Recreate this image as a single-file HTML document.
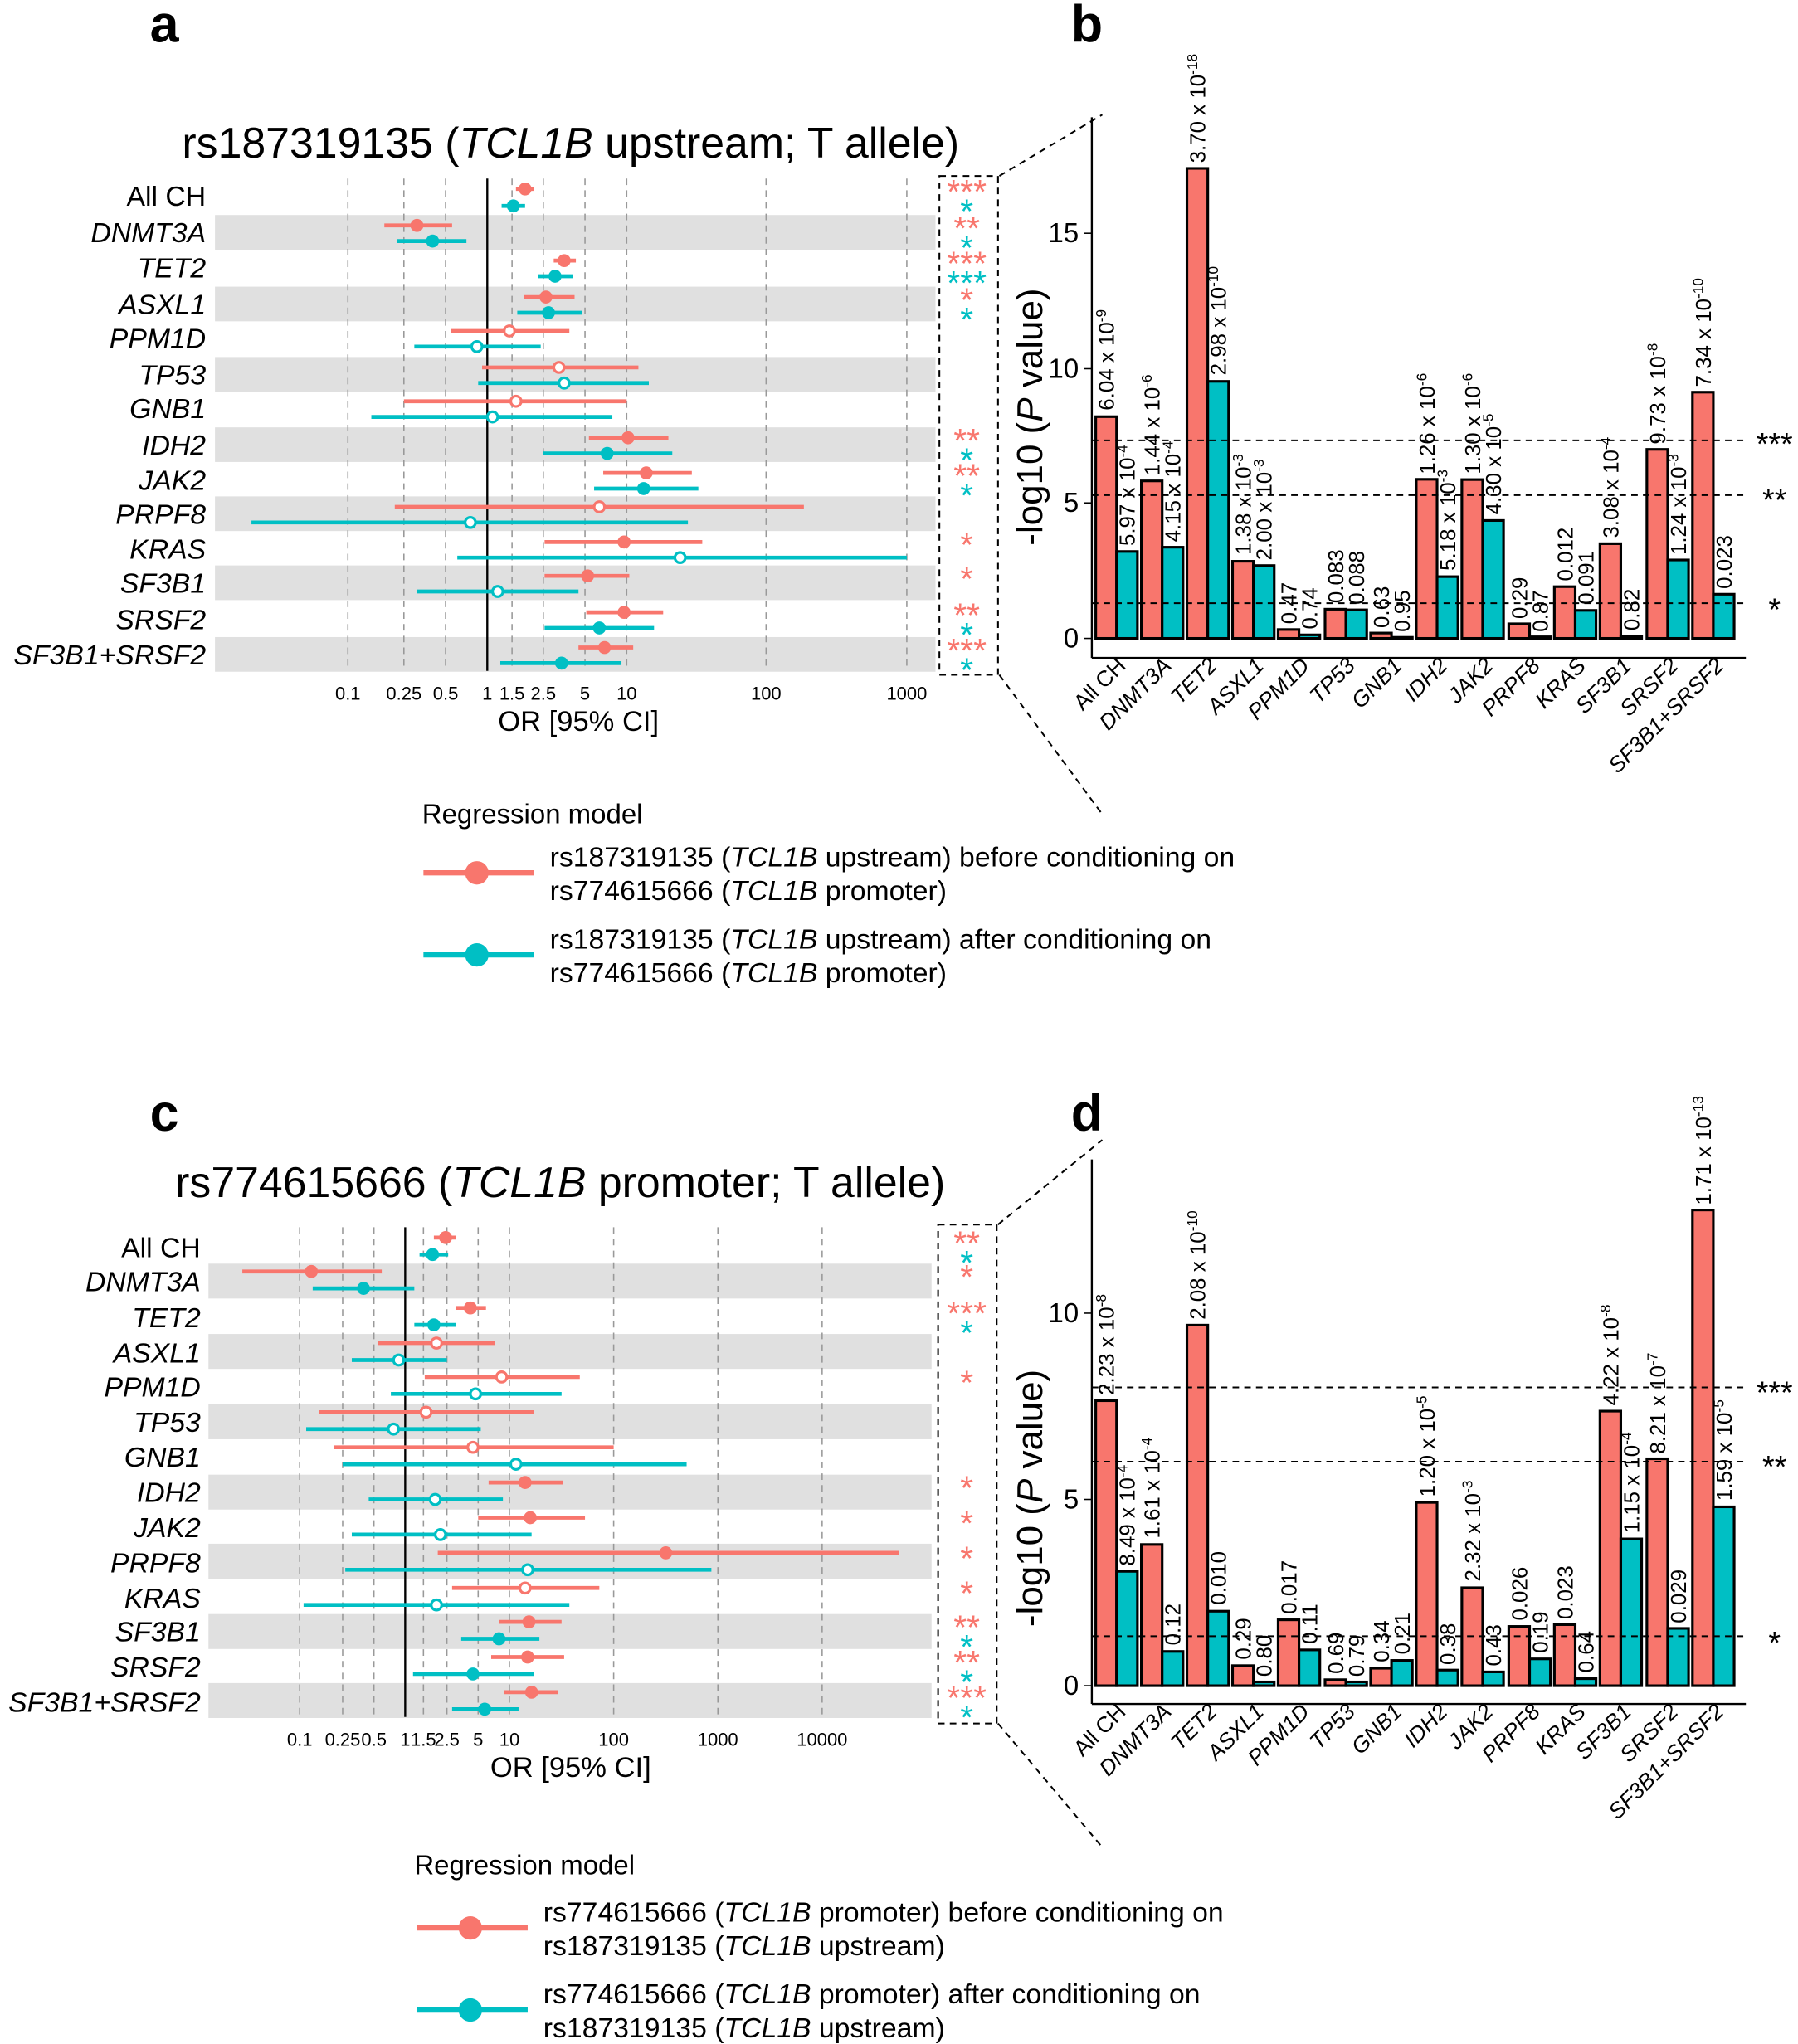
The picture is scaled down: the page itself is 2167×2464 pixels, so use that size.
<!DOCTYPE html>
<html><head><meta charset="utf-8"><style>
html,body{margin:0;padding:0;background:#fff}
svg{display:block}
text{font-family:"Liberation Sans",sans-serif;fill:#000}
.i{font-style:italic}
.r{stroke:#F8766D;stroke-width:3}
.c{stroke:#00BFC4;stroke-width:3}
.rf{fill:#F8766D}
.cf{fill:#00BFC4}
.ro{fill:#fff;stroke:#F8766D;stroke-width:2}
.co{fill:#fff;stroke:#00BFC4;stroke-width:2}
.g{stroke:#999;stroke-width:1;stroke-dasharray:5,4}
.band{fill:#e0e0e0}
.rl{font-size:21.5px;text-anchor:end}
.tk{font-size:14px;text-anchor:middle}
.sr{fill:#F8766D;font-size:26px;text-anchor:middle}
.sc{fill:#00BFC4;font-size:26px;text-anchor:middle}
.br{fill:#F8766D;stroke:#000;stroke-width:2}
.bc{fill:#00BFC4;stroke:#000;stroke-width:2}
.bl{font-size:16.5px}
.bl tspan{font-size:11px}
.xl{font-size:17px;text-anchor:end}
.yt{font-size:21px;text-anchor:end}
.lg{font-size:21.5px}
.dl{stroke:#000;stroke-width:1.3;stroke-dasharray:5,4}
</style></head><body>
<svg width="2167" height="2464" viewBox="0 0 1380 1569" xmlns="http://www.w3.org/2000/svg">
<!-- ===== Panel a ===== -->
<text x="115" y="32" font-size="40" font-weight="bold">a</text>
<text x="438" y="121" font-size="33" text-anchor="middle">rs187319135 (<tspan class="i">TCL1B</tspan> upstream; T allele)</text>
<g>
<rect class="band" x="165" y="165" width="553" height="26.6"/>
<rect class="band" x="165" y="220" width="553" height="26.6"/>
<rect class="band" x="165" y="274" width="553" height="26.6"/>
<rect class="band" x="165" y="328" width="553" height="26.6"/>
<rect class="band" x="165" y="381" width="553" height="26.6"/>
<rect class="band" x="165" y="434" width="553" height="26.6"/>
<rect class="band" x="165" y="489" width="553" height="26.6"/>
</g>
<g>
<line class="g" x1="267" y1="137" x2="267" y2="515"/>
<line class="g" x1="310" y1="137" x2="310" y2="515"/>
<line class="g" x1="342" y1="137" x2="342" y2="515"/>
<line class="g" x1="393" y1="137" x2="393" y2="515"/>
<line class="g" x1="417" y1="137" x2="417" y2="515"/>
<line class="g" x1="449" y1="137" x2="449" y2="515"/>
<line class="g" x1="481" y1="137" x2="481" y2="515"/>
<line class="g" x1="588" y1="137" x2="588" y2="515"/>
<line class="g" x1="696" y1="137" x2="696" y2="515"/>
<line x1="374" y1="137" x2="374" y2="515" stroke="#000" stroke-width="1.5"/>
</g>
<g>
<text class="rl" x="158" y="158">All CH</text>
<text class="rl i" x="158" y="186">DNMT3A</text>
<text class="rl i" x="158" y="213">TET2</text>
<text class="rl i" x="158" y="241">ASXL1</text>
<text class="rl i" x="158" y="267">PPM1D</text>
<text class="rl i" x="158" y="295">TP53</text>
<text class="rl i" x="158" y="321">GNB1</text>
<text class="rl i" x="158" y="349">IDH2</text>
<text class="rl i" x="158" y="376">JAK2</text>
<text class="rl i" x="158" y="402">PRPF8</text>
<text class="rl i" x="158" y="429">KRAS</text>
<text class="rl i" x="158" y="455">SF3B1</text>
<text class="rl i" x="158" y="483">SRSF2</text>
<text class="rl i" x="158" y="510">SF3B1+SRSF2</text>
</g>
<g>
<line class="r" x1="396" x2="410" y1="145" y2="145"/><circle class="rf" cx="403" cy="145" r="5"/>
<line class="c" x1="385" x2="403" y1="158" y2="158"/><circle class="cf" cx="394" cy="158" r="5"/>
<line class="r" x1="295" x2="347" y1="173" y2="173"/><circle class="rf" cx="320" cy="173" r="5"/>
<line class="c" x1="305" x2="358" y1="185" y2="185"/><circle class="cf" cx="332" cy="185" r="5"/>
<line class="r" x1="425" x2="442" y1="200" y2="200"/><circle class="rf" cx="433" cy="200" r="5"/>
<line class="c" x1="413" x2="440" y1="212" y2="212"/><circle class="cf" cx="426" cy="212" r="5"/>
<line class="r" x1="402" x2="441" y1="228" y2="228"/><circle class="rf" cx="419" cy="228" r="5"/>
<line class="c" x1="397" x2="447" y1="240" y2="240"/><circle class="cf" cx="421" cy="240" r="5"/>
<line class="r" x1="346" x2="437" y1="254" y2="254"/><circle class="ro" cx="391" cy="254" r="4"/>
<line class="c" x1="318" x2="415" y1="266" y2="266"/><circle class="co" cx="366" cy="266" r="4"/>
<line class="r" x1="370" x2="490" y1="282" y2="282"/><circle class="ro" cx="429" cy="282" r="4"/>
<line class="c" x1="367" x2="498" y1="294" y2="294"/><circle class="co" cx="433" cy="294" r="4"/>
<line class="r" x1="310" x2="481" y1="308" y2="308"/><circle class="ro" cx="396" cy="308" r="4"/>
<line class="c" x1="285" x2="470" y1="320" y2="320"/><circle class="co" cx="378" cy="320" r="4"/>
<line class="r" x1="452" x2="513" y1="336" y2="336"/><circle class="rf" cx="482" cy="336" r="5"/>
<line class="c" x1="417" x2="516" y1="348" y2="348"/><circle class="cf" cx="466" cy="348" r="5"/>
<line class="r" x1="463" x2="531" y1="363" y2="363"/><circle class="rf" cx="496" cy="363" r="5"/>
<line class="c" x1="456" x2="536" y1="375" y2="375"/><circle class="cf" cx="494" cy="375" r="5"/>
<line class="r" x1="303" x2="617" y1="389" y2="389"/><circle class="ro" cx="460" cy="389" r="4"/>
<line class="c" x1="193" x2="528" y1="401" y2="401"/><circle class="co" cx="361" cy="401" r="4"/>
<line class="r" x1="418" x2="539" y1="416" y2="416"/><circle class="rf" cx="479" cy="416" r="5"/>
<line class="c" x1="351" x2="696" y1="428" y2="428"/><circle class="co" cx="522" cy="428" r="4"/>
<line class="r" x1="418" x2="483" y1="442" y2="442"/><circle class="rf" cx="451" cy="442" r="5"/>
<line class="c" x1="320" x2="444" y1="454" y2="454"/><circle class="co" cx="382" cy="454" r="4"/>
<line class="r" x1="450" x2="509" y1="470" y2="470"/><circle class="rf" cx="479" cy="470" r="5"/>
<line class="c" x1="418" x2="502" y1="482" y2="482"/><circle class="cf" cx="460" cy="482" r="5"/>
<line class="r" x1="444" x2="486" y1="497" y2="497"/><circle class="rf" cx="464" cy="497" r="5"/>
<line class="c" x1="384" x2="477" y1="509" y2="509"/><circle class="cf" cx="431" cy="509" r="5"/>
</g>
<g>
<text class="tk" x="267" y="537">0.1</text><text class="tk" x="310" y="537">0.25</text><text class="tk" x="342" y="537">0.5</text>
<text class="tk" x="374" y="537">1</text><text class="tk" x="393" y="537">1.5</text><text class="tk" x="417" y="537">2.5</text>
<text class="tk" x="449" y="537">5</text><text class="tk" x="481" y="537">10</text><text class="tk" x="588" y="537">100</text><text class="tk" x="696" y="537">1000</text>
<text x="444" y="561" font-size="22" text-anchor="middle">OR [95% CI]</text>
</g>
<rect x="721" y="135" width="45" height="383" fill="none" class="dl"/>
<g>
<text class="sr" x="742" y="156">***</text><text class="sc" x="742" y="171">*</text>
<text class="sr" x="742" y="184">**</text><text class="sc" x="742" y="199">*</text>
<text class="sr" x="742" y="211">***</text><text class="sc" x="742" y="226">***</text>
<text class="sr" x="742" y="239">*</text><text class="sc" x="742" y="254">*</text>
<text class="sr" x="742" y="347">**</text><text class="sc" x="742" y="362">*</text>
<text class="sr" x="742" y="374">**</text><text class="sc" x="742" y="389">*</text>
<text class="sr" x="742" y="427">*</text>
<text class="sr" x="742" y="453">*</text>
<text class="sr" x="742" y="481">**</text><text class="sc" x="742" y="496">*</text>
<text class="sr" x="742" y="508">***</text><text class="sc" x="742" y="523">*</text>
</g>
<line class="dl" x1="767" y1="135" x2="846" y2="88"/>
<line class="dl" x1="767" y1="518" x2="846" y2="625"/>
<!-- legend a -->
<text x="324" y="632" font-size="21">Regression model</text>
<line x1="325" y1="670" x2="410" y2="670" stroke="#F8766D" stroke-width="4"/><circle cx="366" cy="670" r="9" fill="#F8766D"/>
<text class="lg" x="422" y="665">rs187319135 (<tspan class="i">TCL1B</tspan> upstream) before conditioning on</text>
<text class="lg" x="422" y="691">rs774615666 (<tspan class="i">TCL1B</tspan> promoter)</text>
<line x1="325" y1="733" x2="410" y2="733" stroke="#00BFC4" stroke-width="4"/><circle cx="366" cy="733" r="9" fill="#00BFC4"/>
<text class="lg" x="422" y="728">rs187319135 (<tspan class="i">TCL1B</tspan> upstream) after conditioning on</text>
<text class="lg" x="422" y="754">rs774615666 (<tspan class="i">TCL1B</tspan> promoter)</text>

<!-- ===== Panel b ===== -->
<text x="822" y="32" font-size="40" font-weight="bold">b</text>
<text transform="translate(800,320) rotate(-90)" font-size="28" text-anchor="middle">-log10 (<tspan class="i">P</tspan> value)</text>
<line x1="838" y1="90" x2="838" y2="505" stroke="#000" stroke-width="1.5"/>
<line x1="838" y1="505" x2="1340" y2="505" stroke="#000" stroke-width="1.5"/>
<g>
<line x1="832" y1="490" x2="838" y2="490" stroke="#000"/><text class="yt" x="828" y="497">0</text>
<line x1="832" y1="386" x2="838" y2="386" stroke="#000"/><text class="yt" x="828" y="393">5</text>
<line x1="832" y1="283" x2="838" y2="283" stroke="#000"/><text class="yt" x="828" y="290">10</text>
<line x1="832" y1="179" x2="838" y2="179" stroke="#000"/><text class="yt" x="828" y="186">15</text>
</g>
<g>
<rect class="br" x="841" y="319.8" width="16" height="170.2"/><rect class="bc" x="857" y="423.3" width="16" height="66.7"/>
<rect class="br" x="876" y="369.1" width="16" height="120.9"/><rect class="bc" x="892" y="420" width="16" height="70"/>
<rect class="br" x="911" y="129.2" width="16" height="360.8"/><rect class="bc" x="927" y="292.7" width="16" height="197.3"/>
<rect class="br" x="946" y="430.8" width="16" height="59.2"/><rect class="bc" x="962" y="434.1" width="16" height="55.9"/>
<rect class="br" x="981" y="483.2" width="16" height="6.8"/><rect class="bc" x="997" y="487.3" width="16" height="2.7"/>
<rect class="br" x="1017" y="467.6" width="16" height="22.4"/><rect class="bc" x="1033" y="468.1" width="16" height="21.9"/>
<rect class="br" x="1052" y="485.9" width="16" height="4.1"/><rect class="bc" x="1068" y="489.2" width="16" height="0.8"/>
<rect class="br" x="1087" y="367.9" width="16" height="122.1"/><rect class="bc" x="1103" y="442.6" width="16" height="47.4"/>
<rect class="br" x="1122" y="368.1" width="16" height="121.9"/><rect class="bc" x="1138" y="399.5" width="16" height="90.5"/>
<rect class="br" x="1158" y="478.8" width="16" height="11.2"/><rect class="bc" x="1174" y="488.8" width="16" height="1.2"/>
<rect class="br" x="1193" y="450.3" width="16" height="39.7"/><rect class="bc" x="1209" y="468.5" width="16" height="21.5"/>
<rect class="br" x="1228" y="417.3" width="16" height="72.7"/><rect class="bc" x="1244" y="488.1" width="16" height="1.9"/>
<rect class="br" x="1264" y="344.9" width="16" height="145.1"/><rect class="bc" x="1280" y="429.8" width="16" height="60.2"/>
<rect class="br" x="1299" y="301" width="16" height="189"/><rect class="bc" x="1315" y="456.1" width="16" height="33.9"/>
</g>
<g class="bl">
<text transform="translate(855,315) rotate(-90)">6.04 x 10<tspan dy="-6">-9</tspan></text>
<text transform="translate(871,419) rotate(-90)">5.97 x 10<tspan dy="-6">-4</tspan></text>
<text transform="translate(890,365) rotate(-90)">1.44 x 10<tspan dy="-6">-6</tspan></text>
<text transform="translate(906,416) rotate(-90)">4.15 x 10<tspan dy="-6">-4</tspan></text>
<text transform="translate(925,125) rotate(-90)">3.70 x 10<tspan dy="-6">-18</tspan></text>
<text transform="translate(941,288) rotate(-90)">2.98 x 10<tspan dy="-6">-10</tspan></text>
<text transform="translate(960,426) rotate(-90)">1.38 x 10<tspan dy="-6">-3</tspan></text>
<text transform="translate(976,430) rotate(-90)">2.00 x 10<tspan dy="-6">-3</tspan></text>
<text transform="translate(995,479) rotate(-90)">0.47</text>
<text transform="translate(1011,483) rotate(-90)">0.74</text>
<text transform="translate(1031,463) rotate(-90)">0.083</text>
<text transform="translate(1047,464) rotate(-90)">0.088</text>
<text transform="translate(1066,482) rotate(-90)">0.63</text>
<text transform="translate(1082,485) rotate(-90)">0.95</text>
<text transform="translate(1101,364) rotate(-90)">1.26 x 10<tspan dy="-6">-6</tspan></text>
<text transform="translate(1117,438) rotate(-90)">5.18 x 10<tspan dy="-6">-3</tspan></text>
<text transform="translate(1136,364) rotate(-90)">1.30 x 10<tspan dy="-6">-6</tspan></text>
<text transform="translate(1152,395) rotate(-90)">4.30 x 10<tspan dy="-6">-5</tspan></text>
<text transform="translate(1172,475) rotate(-90)">0.29</text>
<text transform="translate(1188,485) rotate(-90)">0.87</text>
<text transform="translate(1207,446) rotate(-90)">0.012</text>
<text transform="translate(1223,464) rotate(-90)">0.091</text>
<text transform="translate(1242,413) rotate(-90)">3.08 x 10<tspan dy="-6">-4</tspan></text>
<text transform="translate(1258,484) rotate(-90)">0.82</text>
<text transform="translate(1278,341) rotate(-90)">9.73 x 10<tspan dy="-6">-8</tspan></text>
<text transform="translate(1294,426) rotate(-90)">1.24 x 10<tspan dy="-6">-3</tspan></text>
<text transform="translate(1313,297) rotate(-90)">7.34 x 10<tspan dy="-6">-10</tspan></text>
<text transform="translate(1329,452) rotate(-90)">0.023</text>
</g>
<line class="dl" x1="838" y1="338" x2="1340" y2="338"/>
<line class="dl" x1="838" y1="380" x2="1340" y2="380"/>
<line class="dl" x1="838" y1="463" x2="1340" y2="463"/>
<text x="1362" y="349" font-size="24" text-anchor="middle">***</text>
<text x="1362" y="392" font-size="24" text-anchor="middle">**</text>
<text x="1362" y="476" font-size="24" text-anchor="middle">*</text>
<g>
<text class="xl" transform="translate(865,512) rotate(-45)">All CH</text>
<text class="xl i" transform="translate(900,512) rotate(-45)">DNMT3A</text>
<text class="xl i" transform="translate(935,512) rotate(-45)">TET2</text>
<text class="xl i" transform="translate(971,512) rotate(-45)">ASXL1</text>
<text class="xl i" transform="translate(1006,512) rotate(-45)">PPM1D</text>
<text class="xl i" transform="translate(1041,512) rotate(-45)">TP53</text>
<text class="xl i" transform="translate(1077,512) rotate(-45)">GNB1</text>
<text class="xl i" transform="translate(1112,512) rotate(-45)">IDH2</text>
<text class="xl i" transform="translate(1147,512) rotate(-45)">JAK2</text>
<text class="xl i" transform="translate(1183,512) rotate(-45)">PRPF8</text>
<text class="xl i" transform="translate(1218,512) rotate(-45)">KRAS</text>
<text class="xl i" transform="translate(1253,512) rotate(-45)">SF3B1</text>
<text class="xl i" transform="translate(1289,512) rotate(-45)">SRSF2</text>
<text class="xl i" transform="translate(1324,512) rotate(-45)">SF3B1+SRSF2</text>
</g>

<!-- ===== Panel c ===== -->
<text x="115" y="868" font-size="40" font-weight="bold">c</text>
<text x="430" y="919" font-size="33" text-anchor="middle">rs774615666 (<tspan class="i">TCL1B</tspan> promoter; T allele)</text>
<g>
<rect class="band" x="160" y="970" width="555" height="26.8"/>
<rect class="band" x="160" y="1024" width="555" height="26.8"/>
<rect class="band" x="160" y="1078" width="555" height="26.8"/>
<rect class="band" x="160" y="1132" width="555" height="26.8"/>
<rect class="band" x="160" y="1185" width="555" height="26.8"/>
<rect class="band" x="160" y="1239" width="555" height="26.8"/>
<rect class="band" x="160" y="1292" width="555" height="26.8"/>
</g>
<g>
<line class="g" x1="230" y1="942" x2="230" y2="1318"/>
<line class="g" x1="263" y1="942" x2="263" y2="1318"/>
<line class="g" x1="287" y1="942" x2="287" y2="1318"/>
<line class="g" x1="325" y1="942" x2="325" y2="1318"/>
<line class="g" x1="343" y1="942" x2="343" y2="1318"/>
<line class="g" x1="367" y1="942" x2="367" y2="1318"/>
<line class="g" x1="391" y1="942" x2="391" y2="1318"/>
<line class="g" x1="471" y1="942" x2="471" y2="1318"/>
<line class="g" x1="551" y1="942" x2="551" y2="1318"/>
<line class="g" x1="631" y1="942" x2="631" y2="1318"/>
<line x1="311" y1="942" x2="311" y2="1318" stroke="#000" stroke-width="1.5"/>
</g>
<g>
<text class="rl" x="154" y="965">All CH</text>
<text class="rl i" x="154" y="991">DNMT3A</text>
<text class="rl i" x="154" y="1019">TET2</text>
<text class="rl i" x="154" y="1046">ASXL1</text>
<text class="rl i" x="154" y="1072">PPM1D</text>
<text class="rl i" x="154" y="1099">TP53</text>
<text class="rl i" x="154" y="1126">GNB1</text>
<text class="rl i" x="154" y="1153">IDH2</text>
<text class="rl i" x="154" y="1180">JAK2</text>
<text class="rl i" x="154" y="1207">PRPF8</text>
<text class="rl i" x="154" y="1234">KRAS</text>
<text class="rl i" x="154" y="1260">SF3B1</text>
<text class="rl i" x="154" y="1287">SRSF2</text>
<text class="rl i" x="154" y="1314">SF3B1+SRSF2</text>
</g>
<g>
<line class="r" x1="333" x2="350" y1="950" y2="950"/><circle class="rf" cx="342" cy="950" r="5"/>
<line class="c" x1="322" x2="344" y1="963" y2="963"/><circle class="cf" cx="332" cy="963" r="5"/>
<line class="r" x1="186" x2="293" y1="976" y2="976"/><circle class="rf" cx="239" cy="976" r="5"/>
<line class="c" x1="240" x2="318" y1="989" y2="989"/><circle class="cf" cx="279" cy="989" r="5"/>
<line class="r" x1="350" x2="373" y1="1004" y2="1004"/><circle class="rf" cx="361" cy="1004" r="5"/>
<line class="c" x1="318" x2="350" y1="1017" y2="1017"/><circle class="cf" cx="333" cy="1017" r="5"/>
<line class="r" x1="290" x2="380" y1="1031" y2="1031"/><circle class="ro" cx="335" cy="1031" r="4"/>
<line class="c" x1="270" x2="343" y1="1044" y2="1044"/><circle class="co" cx="306" cy="1044" r="4"/>
<line class="r" x1="326" x2="445" y1="1057" y2="1057"/><circle class="ro" cx="385" cy="1057" r="4"/>
<line class="c" x1="300" x2="431" y1="1070" y2="1070"/><circle class="co" cx="365" cy="1070" r="4"/>
<line class="r" x1="245" x2="410" y1="1084" y2="1084"/><circle class="ro" cx="327" cy="1084" r="4"/>
<line class="c" x1="235" x2="369" y1="1097" y2="1097"/><circle class="co" cx="302" cy="1097" r="4"/>
<line class="r" x1="256" x2="471" y1="1111" y2="1111"/><circle class="ro" cx="363" cy="1111" r="4"/>
<line class="c" x1="263" x2="527" y1="1124" y2="1124"/><circle class="co" cx="396" cy="1124" r="4"/>
<line class="r" x1="375" x2="432" y1="1138" y2="1138"/><circle class="rf" cx="403" cy="1138" r="5"/>
<line class="c" x1="283" x2="386" y1="1151" y2="1151"/><circle class="co" cx="334" cy="1151" r="4"/>
<line class="r" x1="367" x2="449" y1="1165" y2="1165"/><circle class="rf" cx="407" cy="1165" r="5"/>
<line class="c" x1="270" x2="408" y1="1178" y2="1178"/><circle class="co" cx="338" cy="1178" r="4"/>
<line class="r" x1="336" x2="690" y1="1192" y2="1192"/><circle class="rf" cx="511" cy="1192" r="5"/>
<line class="c" x1="265" x2="546" y1="1205" y2="1205"/><circle class="co" cx="405" cy="1205" r="4"/>
<line class="r" x1="347" x2="460" y1="1219" y2="1219"/><circle class="ro" cx="403" cy="1219" r="4"/>
<line class="c" x1="233" x2="437" y1="1232" y2="1232"/><circle class="co" cx="335" cy="1232" r="4"/>
<line class="r" x1="383" x2="431" y1="1245" y2="1245"/><circle class="rf" cx="406" cy="1245" r="5"/>
<line class="c" x1="354" x2="414" y1="1258" y2="1258"/><circle class="cf" cx="383" cy="1258" r="5"/>
<line class="r" x1="377" x2="433" y1="1272" y2="1272"/><circle class="rf" cx="405" cy="1272" r="5"/>
<line class="c" x1="317" x2="410" y1="1285" y2="1285"/><circle class="cf" cx="363" cy="1285" r="5"/>
<line class="r" x1="387" x2="428" y1="1299" y2="1299"/><circle class="rf" cx="408" cy="1299" r="5"/>
<line class="c" x1="347" x2="398" y1="1312" y2="1312"/><circle class="cf" cx="372" cy="1312" r="5"/>
</g>
<g>
<text class="tk" x="230" y="1340">0.1</text><text class="tk" x="263" y="1340">0.25</text><text class="tk" x="287" y="1340">0.5</text>
<text class="tk" x="311" y="1340">1</text><text class="tk" x="325" y="1340">1.5</text><text class="tk" x="343" y="1340">2.5</text>
<text class="tk" x="367" y="1340">5</text><text class="tk" x="391" y="1340">10</text><text class="tk" x="471" y="1340">100</text>
<text class="tk" x="551" y="1340">1000</text><text class="tk" x="631" y="1340">10000</text>
<text x="438" y="1364" font-size="22" text-anchor="middle">OR [95% CI]</text>
</g>
<rect x="720" y="940" width="45" height="383" fill="none" class="dl"/>
<g>
<text class="sr" x="742" y="963">**</text><text class="sc" x="742" y="978">*</text>
<text class="sr" x="742" y="989">*</text>
<text class="sr" x="742" y="1017">***</text><text class="sc" x="742" y="1032">*</text>
<text class="sr" x="742" y="1070">*</text>
<text class="sr" x="742" y="1151">*</text>
<text class="sr" x="742" y="1178">*</text>
<text class="sr" x="742" y="1205">*</text>
<text class="sr" x="742" y="1232">*</text>
<text class="sr" x="742" y="1258">**</text><text class="sc" x="742" y="1273">*</text>
<text class="sr" x="742" y="1285">**</text><text class="sc" x="742" y="1300">*</text>
<text class="sr" x="742" y="1312">***</text><text class="sc" x="742" y="1327">*</text>
</g>
<line class="dl" x1="766" y1="940" x2="846" y2="875"/>
<line class="dl" x1="766" y1="1323" x2="846" y2="1418"/>
<!-- legend c -->
<text x="318" y="1439" font-size="21">Regression model</text>
<line x1="320" y1="1480" x2="405" y2="1480" stroke="#F8766D" stroke-width="4"/><circle cx="361" cy="1480" r="9" fill="#F8766D"/>
<text class="lg" x="417" y="1475">rs774615666 (<tspan class="i">TCL1B</tspan> promoter) before conditioning on</text>
<text class="lg" x="417" y="1501">rs187319135 (<tspan class="i">TCL1B</tspan> upstream)</text>
<line x1="320" y1="1543" x2="405" y2="1543" stroke="#00BFC4" stroke-width="4"/><circle cx="361" cy="1543" r="9" fill="#00BFC4"/>
<text class="lg" x="417" y="1538">rs774615666 (<tspan class="i">TCL1B</tspan> promoter) after conditioning on</text>
<text class="lg" x="417" y="1564">rs187319135 (<tspan class="i">TCL1B</tspan> upstream)</text>

<!-- ===== Panel d ===== -->
<text x="822" y="868" font-size="40" font-weight="bold">d</text>
<text transform="translate(800,1150) rotate(-90)" font-size="28" text-anchor="middle">-log10 (<tspan class="i">P</tspan> value)</text>
<line x1="838" y1="890" x2="838" y2="1308" stroke="#000" stroke-width="1.5"/>
<line x1="838" y1="1308" x2="1340" y2="1308" stroke="#000" stroke-width="1.5"/>
<g>
<line x1="832" y1="1294" x2="838" y2="1294" stroke="#000"/><text class="yt" x="828" y="1301">0</text>
<line x1="832" y1="1151" x2="838" y2="1151" stroke="#000"/><text class="yt" x="828" y="1158">5</text>
<line x1="832" y1="1008" x2="838" y2="1008" stroke="#000"/><text class="yt" x="828" y="1015">10</text>
</g>
<g>
<rect class="br" x="841" y="1075.2" width="16" height="218.8"/><rect class="bc" x="857" y="1206.2" width="16" height="87.8"/>
<rect class="br" x="876" y="1185.6" width="16" height="108.4"/><rect class="bc" x="892" y="1267.7" width="16" height="26.3"/>
<rect class="br" x="911" y="1017.2" width="16" height="276.8"/><rect class="bc" x="927" y="1236.8" width="16" height="57.2"/>
<rect class="br" x="946" y="1278.6" width="16" height="15.4"/><rect class="bc" x="962" y="1291.1" width="16" height="2.9"/>
<rect class="br" x="981" y="1243.4" width="16" height="50.6"/><rect class="bc" x="997" y="1266.5" width="16" height="27.5"/>
<rect class="br" x="1017" y="1289.4" width="16" height="4.6"/><rect class="bc" x="1033" y="1291.1" width="16" height="2.9"/>
<rect class="br" x="1052" y="1280.6" width="16" height="13.4"/><rect class="bc" x="1068" y="1274.6" width="16" height="19.4"/>
<rect class="br" x="1087" y="1153.3" width="16" height="140.7"/><rect class="bc" x="1103" y="1282" width="16" height="12"/>
<rect class="br" x="1122" y="1218.8" width="16" height="75.2"/><rect class="bc" x="1138" y="1283.4" width="16" height="10.6"/>
<rect class="br" x="1158" y="1248.5" width="16" height="45.5"/><rect class="bc" x="1174" y="1273.4" width="16" height="20.6"/>
<rect class="br" x="1193" y="1247.1" width="16" height="46.9"/><rect class="bc" x="1209" y="1288.6" width="16" height="5.4"/>
<rect class="br" x="1228" y="1083.2" width="16" height="210.8"/><rect class="bc" x="1244" y="1181.3" width="16" height="112.7"/>
<rect class="br" x="1264" y="1119.8" width="16" height="174.2"/><rect class="bc" x="1280" y="1250" width="16" height="44"/>
<rect class="br" x="1299" y="928.8" width="16" height="365.2"/><rect class="bc" x="1315" y="1156.7" width="16" height="137.3"/>
</g>
<g class="bl">
<text transform="translate(855,1071) rotate(-90)">2.23 x 10<tspan dy="-6">-8</tspan></text>
<text transform="translate(871,1202) rotate(-90)">8.49 x 10<tspan dy="-6">-4</tspan></text>
<text transform="translate(890,1181) rotate(-90)">1.61 x 10<tspan dy="-6">-4</tspan></text>
<text transform="translate(906,1263) rotate(-90)">0.12</text>
<text transform="translate(925,1013) rotate(-90)">2.08 x 10<tspan dy="-6">-10</tspan></text>
<text transform="translate(941,1232) rotate(-90)">0.010</text>
<text transform="translate(960,1274) rotate(-90)">0.29</text>
<text transform="translate(976,1287) rotate(-90)">0.80</text>
<text transform="translate(995,1239) rotate(-90)">0.017</text>
<text transform="translate(1011,1262) rotate(-90)">0.11</text>
<text transform="translate(1031,1285) rotate(-90)">0.69</text>
<text transform="translate(1047,1287) rotate(-90)">0.79</text>
<text transform="translate(1066,1276) rotate(-90)">0.34</text>
<text transform="translate(1082,1270) rotate(-90)">0.21</text>
<text transform="translate(1101,1149) rotate(-90)">1.20 x 10<tspan dy="-6">-5</tspan></text>
<text transform="translate(1117,1278) rotate(-90)">0.38</text>
<text transform="translate(1136,1214) rotate(-90)">2.32 x 10<tspan dy="-6">-3</tspan></text>
<text transform="translate(1152,1279) rotate(-90)">0.43</text>
<text transform="translate(1172,1244) rotate(-90)">0.026</text>
<text transform="translate(1188,1269) rotate(-90)">0.19</text>
<text transform="translate(1207,1243) rotate(-90)">0.023</text>
<text transform="translate(1223,1284) rotate(-90)">0.64</text>
<text transform="translate(1242,1079) rotate(-90)">4.22 x 10<tspan dy="-6">-8</tspan></text>
<text transform="translate(1258,1177) rotate(-90)">1.15 x 10<tspan dy="-6">-4</tspan></text>
<text transform="translate(1278,1116) rotate(-90)">8.21 x 10<tspan dy="-6">-7</tspan></text>
<text transform="translate(1294,1246) rotate(-90)">0.029</text>
<text transform="translate(1313,925) rotate(-90)">1.71 x 10<tspan dy="-6">-13</tspan></text>
<text transform="translate(1329,1152) rotate(-90)">1.59 x 10<tspan dy="-6">-5</tspan></text>
</g>
<line class="dl" x1="838" y1="1065" x2="1340" y2="1065"/>
<line class="dl" x1="838" y1="1122" x2="1340" y2="1122"/>
<line class="dl" x1="838" y1="1256" x2="1340" y2="1256"/>
<text x="1362" y="1077" font-size="24" text-anchor="middle">***</text>
<text x="1362" y="1134" font-size="24" text-anchor="middle">**</text>
<text x="1362" y="1269" font-size="24" text-anchor="middle">*</text>
<g>
<text class="xl" transform="translate(865,1315) rotate(-45)">All CH</text>
<text class="xl i" transform="translate(900,1315) rotate(-45)">DNMT3A</text>
<text class="xl i" transform="translate(935,1315) rotate(-45)">TET2</text>
<text class="xl i" transform="translate(971,1315) rotate(-45)">ASXL1</text>
<text class="xl i" transform="translate(1006,1315) rotate(-45)">PPM1D</text>
<text class="xl i" transform="translate(1041,1315) rotate(-45)">TP53</text>
<text class="xl i" transform="translate(1077,1315) rotate(-45)">GNB1</text>
<text class="xl i" transform="translate(1112,1315) rotate(-45)">IDH2</text>
<text class="xl i" transform="translate(1147,1315) rotate(-45)">JAK2</text>
<text class="xl i" transform="translate(1183,1315) rotate(-45)">PRPF8</text>
<text class="xl i" transform="translate(1218,1315) rotate(-45)">KRAS</text>
<text class="xl i" transform="translate(1253,1315) rotate(-45)">SF3B1</text>
<text class="xl i" transform="translate(1289,1315) rotate(-45)">SRSF2</text>
<text class="xl i" transform="translate(1324,1315) rotate(-45)">SF3B1+SRSF2</text>
</g>
</svg>
</body></html>
